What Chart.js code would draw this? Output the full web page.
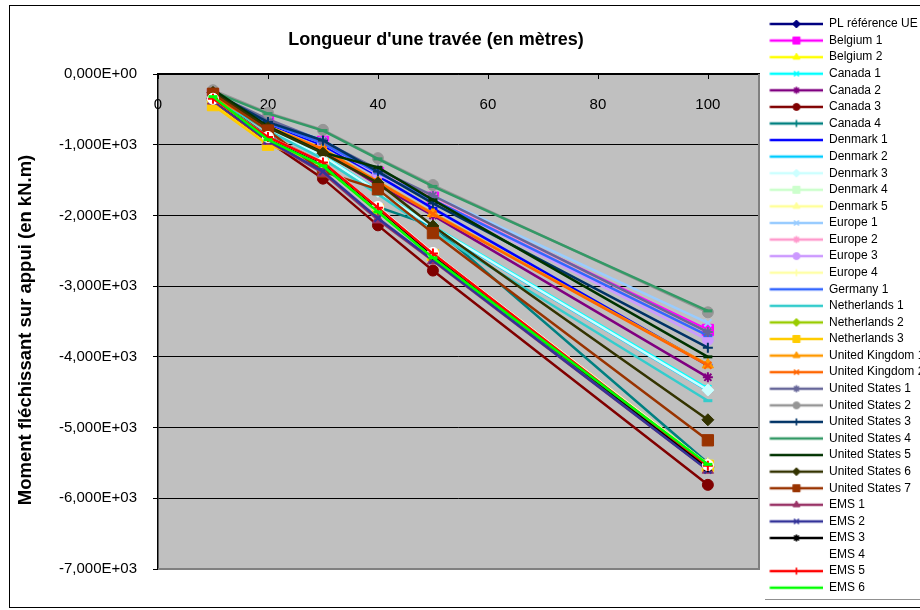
<!DOCTYPE html>
<html>
<head>
<meta charset="utf-8">
<script src="https://cdn.jsdelivr.net/npm/chart.js@4/dist/chart.umd.min.js"></script>
<style>
  html, body { margin: 0; padding: 0; background: #ffffff; }
  #wrap { width: 920px; height: 610px; }
</style>
</head>
<body>
<div id="wrap"><canvas id="c" width="920" height="610"></canvas></div>
<script>
// Span lengths (m) on the horizontal axis
const spans = [10, 20, 30, 40, 50, 100];

// Hogging moment over the support (kN.m) for each code / load model
const plReferenceUE   = [-350, -900, -1290, -1940, -2580, -5560];
const belgium1        = [-290, -670, -960, -1400, -1750, -3620];
const belgium2        = [-420, -990, -1270, -1900, -2540, -5520];
const canada1         = [-320, -770, -1150, -1650, -2150, -4450];
const canada2         = [-310, -760, -1090, -1570, -2000, -4290];
const canada3         = [-380, -950, -1480, -2140, -2780, -5810];
const canada4         = [-330, -880, -1250, -1880, -2150, -5500];
const denmark1        = [-300, -700, -1010, -1440, -1900, -4120];
const denmark2        = [-320, -780, -1160, -1660, -2170, -4480];
const denmark3        = [-320, -780, -1160, -1660, -2160, -4470];
const denmark4        = [-360, -920, -1290, -1930, -2560, -5540];
const denmark5        = [-360, -920, -1260, -1900, -2540, -5520];
const europe1         = [-280, -650, -940, -1380, -1720, -3520];
const europe2         = [-290, -670, -960, -1400, -1740, -3650];
const europe3         = [-300, -690, -980, -1420, -1780, -3760];
const europe4         = [-360, -910, -1260, -1900, -2540, -5520];
const germany1        = [-300, -690, -980, -1400, -1780, -3700];
const netherlands1    = [-330, -800, -1200, -1700, -2230, -4620];
const netherlands2    = [-370, -930, -1300, -1950, -2580, -5550];
const netherlands3    = [-440, -1000, -1280, -1920, -2560, -5540];
const unitedKingdom1  = [-330, -740, -1060, -1520, -1970, -4110];
const unitedKingdom2  = [-330, -750, -1070, -1530, -1980, -4120];
const unitedStates1   = [-270, -640, -950, -1350, -1720, -3650];
const unitedStates2   = [-230, -550, -790, -1190, -1570, -3370];
const unitedStates3   = [-260, -680, -940, -1380, -1830, -3870];
const unitedStates4   = [-250, -560, -800, -1200, -1590, -3350];
const unitedStates5   = [-220, -740, -1110, -1320, -1780, -4000];
const unitedStates6   = [-260, -760, -1120, -1540, -2150, -4890];
const unitedStates7   = [-280, -800, -1380, -1630, -2250, -5180];
const ems1            = [-380, -950, -1400, -2060, -2640, -5600];
const ems2            = [-370, -940, -1380, -2040, -2630, -5600];
const ems3            = [-350, -900, -1260, -1900, -2560, -5560];
const ems4            = [-350, -890, -1245, -1880, -2530, -5530];
const ems5            = [-350, -890, -1250, -1890, -2540, -5540];
const ems6            = [-320, -930, -1300, -1950, -2600, -5520];

const seriesNames = [
  'PL référence UE', 'Belgium 1', 'Belgium 2', 'Canada 1', 'Canada 2', 'Canada 3', 'Canada 4',
  'Denmark 1', 'Denmark 2', 'Denmark 3', 'Denmark 4', 'Denmark 5',
  'Europe 1', 'Europe 2', 'Europe 3', 'Europe 4', 'Germany 1',
  'Netherlands 1', 'Netherlands 2', 'Netherlands 3', 'United Kingdom 1', 'United Kingdom 2',
  'United States 1', 'United States 2', 'United States 3', 'United States 4',
  'United States 5', 'United States 6', 'United States 7',
  'EMS 1', 'EMS 2', 'EMS 3', 'EMS 4', 'EMS 5', 'EMS 6'
];
const seriesValues = [
  plReferenceUE, belgium1, belgium2, canada1, canada2, canada3, canada4,
  denmark1, denmark2, denmark3, denmark4, denmark5,
  europe1, europe2, europe3, europe4, germany1,
  netherlands1, netherlands2, netherlands3, unitedKingdom1, unitedKingdom2,
  unitedStates1, unitedStates2, unitedStates3, unitedStates4,
  unitedStates5, unitedStates6, unitedStates7,
  ems1, ems2, ems3, ems4, ems5, ems6
];
const seriesColors = [
  '#000080', '#FF00FF', '#FFFF00', '#00FFFF', '#800080', '#800000', '#008080',
  '#0000FF', '#00CCFF', '#CCFFFF', '#CCFFCC', '#FFFF99',
  '#99CCFF', '#FF99CC', '#CC99FF', '#FFFFA6', '#3366FF',
  '#33CCCC', '#99CC00', '#FFCC00', '#FF9900', '#FF6600',
  '#666699', '#969696', '#003366', '#339966',
  '#003300', '#333300', '#993300',
  '#993366', '#333399', '#000000', '#FFFFFF', '#FF0000', '#00FF00'
];
// marker cycle: diamond, square, triangle, x, star, circle, plus, dash, dash
const markerCycle = ['rectRot', 'rect', 'triangle', 'crossRot', 'star', 'circle', 'cross', 'line', 'line'];

const FONT = 'Arial, "Liberation Sans", Helvetica, sans-serif';

const markerRadius = { rectRot: 6, rect: 8, triangle: 6.5, crossRot: 5, star: 5, circle: 5.5, cross: 5, line: 4.5 };
const legendRadius = { rectRot: 4, rect: 5, triangle: 4, crossRot: 3.5, star: 3.5, circle: 3.5, cross: 3.5, line: 3.5 };
const markerBorder = { rectRot: 1, rect: 1, triangle: 1, crossRot: 2, star: 2, circle: 1, cross: 2, line: 3 };

function sci(v) {
  if (v === 0) return '0,000E+00';
  const e = Math.floor(Math.log10(Math.abs(v)) + 1e-9);
  const m = v / Math.pow(10, e);
  return m.toFixed(3).replace('.', ',') + 'E' + (e < 0 ? '-' : '+') + String(Math.abs(e)).padStart(2, '0');
}

// legend swatch: line segment with the series marker in the middle
const SW_W = 60, SW_H = 14, SW_LINE_START = 6.4;
function legendSwatch(color, style) {
  const cv = document.createElement('canvas');
  cv.width = SW_W; cv.height = SW_H;
  const g = cv.getContext('2d');
  g.strokeStyle = color; g.fillStyle = color; g.lineWidth = 2.5;
  g.beginPath(); g.moveTo(SW_LINE_START, SW_H / 2); g.lineTo(SW_W, SW_H / 2); g.stroke();
  g.lineWidth = markerBorder[style] === 1 ? 1 : 1.6;
  const cx = (SW_LINE_START + SW_W) / 2;
  if (Chart.helpers && Chart.helpers.drawPoint) {
    Chart.helpers.drawPoint(g, { pointStyle: style, radius: legendRadius[style], rotation: 0, borderWidth: g.lineWidth }, cx, SW_H / 2);
  }
  return cv;
}

const N = seriesNames.length;
const datasets = seriesNames.map((name, i) => {
  const style = markerCycle[i % markerCycle.length];
  const color = seriesColors[i];
  return {
    label: name,
    data: spans.map((s, k) => ({ x: s, y: seriesValues[i][k] })),
    borderColor: color,
    backgroundColor: color,
    borderWidth: 2.5,
    pointStyle: style,
    pointRadius: markerRadius[style],
    pointBorderWidth: markerBorder[style],
    pointBackgroundColor: color,
    pointBorderColor: color,
    tension: 0,
    order: N - i,
    xAxisID: 'x',
    yAxisID: 'y'
  };
});
const swatches = datasets.map(d => legendSwatch(d.borderColor, d.pointStyle));

const chartDecor = {
  id: 'chartDecor',
  beforeDraw(chart) {
    const { ctx, chartArea: a } = chart;
    ctx.save();
    ctx.fillStyle = '#ffffff';
    ctx.fillRect(0, 0, chart.width, chart.height);
    // outer frame
    ctx.strokeStyle = '#000000';
    ctx.lineWidth = 1;
    ctx.strokeRect(9.5, 5.5, 920, 602);
    // thin rule under the legend
    ctx.strokeStyle = '#909090';
    ctx.beginPath(); ctx.moveTo(765, 599.5); ctx.lineTo(920, 599.5); ctx.stroke();
    // plot background
    ctx.fillStyle = '#C0C0C0';
    ctx.fillRect(a.left, a.top, a.right - a.left, a.bottom - a.top);
    ctx.restore();
  },
  beforeDatasetsDraw(chart) {
    const { ctx, chartArea: a } = chart;
    const xs = chart.scales.x;
    ctx.save();
    // plot-area edge
    ctx.strokeStyle = '#808080';
    ctx.lineWidth = 2;
    ctx.beginPath();
    ctx.moveTo(a.left, a.bottom);
    ctx.lineTo(a.right, a.bottom);
    ctx.lineTo(a.right, a.top);
    ctx.stroke();
    // horizontal axis sits on the top edge: ticks point inward, labels just below
    ctx.strokeStyle = '#000000';
    ctx.lineWidth = 1;
    ctx.fillStyle = '#000000';
    ctx.font = '15px ' + FONT;
    ctx.textAlign = 'center';
    ctx.textBaseline = 'middle';
    xs.ticks.forEach(t => {
      const px = Math.round(xs.getPixelForValue(t.value)) + 0.5;
      ctx.beginPath(); ctx.moveTo(px, a.top); ctx.lineTo(px, a.top + 5); ctx.stroke();
      ctx.fillText(String(t.value), xs.getPixelForValue(t.value), a.top + 31);
    });
    ctx.restore();
  },
  afterDraw(chart) {
    const { ctx, chartArea: a } = chart;
    ctx.save();
    ctx.fillStyle = '#000000';
    ctx.font = 'bold 18px ' + FONT;
    ctx.textAlign = 'center';
    ctx.textBaseline = 'middle';
    ctx.fillText("Longueur d'une travée (en mètres)", 436, 40);
    // vertical axis title
    ctx.translate(26, 330);
    ctx.rotate(-Math.PI / 2);
    ctx.font = 'bold 18.5px ' + FONT;
    ctx.fillText('Moment fléchissant sur appui (en kN.m)', 0, 0);
    ctx.restore();
  }
};

new Chart(document.getElementById('c'), {
  type: 'line',
  data: { datasets },
  options: {
    responsive: false,
    animation: false,
    devicePixelRatio: 1,
    layout: { padding: { top: 13.4, left: 0, right: 0, bottom: 0 } },
    scales: {
      x: {
        type: 'linear',
        position: 'top',
        min: 0,
        max: 109.3,
        ticks: { stepSize: 20, includeBounds: false, display: false },
        grid: { drawOnChartArea: false, drawTicks: false },
        border: { color: '#000', width: 1.5 },
        afterFit(s) { s.height = 60.6; }
      },
      xb: {
        type: 'linear',
        position: 'bottom',
        display: true,
        ticks: { display: false },
        grid: { display: false },
        border: { display: false },
        afterFit(s) { s.height = 41; }
      },
      y: {
        type: 'linear',
        position: 'left',
        min: -7000,
        max: 0,
        ticks: { stepSize: 1000, padding: 16, color: '#000', font: { size: 15, family: FONT }, callback: v => sci(v) },
        grid: { color: '#000', lineWidth: 1, tickLength: 5, tickColor: '#000' },
        border: { color: '#000', width: 1.5 },
        afterFit(s) { s.width = 158; }
      }
    },
    plugins: {
      tooltip: { enabled: false },
      legend: {
        position: 'right',
        align: 'start',
        maxWidth: 161,
        labels: {
          usePointStyle: true,
          pointStyleWidth: SW_W - 0.6,
          padding: 4.58,
          color: '#000',
          font: { size: 12, family: FONT },
          generateLabels(chart) {
            return chart.data.datasets.map((d, i) => ({
              text: d.label,
              pointStyle: swatches[i],
              fillStyle: d.borderColor,
              strokeStyle: d.borderColor,
              lineWidth: 0,
              hidden: false,
              datasetIndex: i,
              fontColor: '#000'
            }));
          }
        }
      }
    }
  },
  plugins: [chartDecor]
});
</script>
</body>
</html>
